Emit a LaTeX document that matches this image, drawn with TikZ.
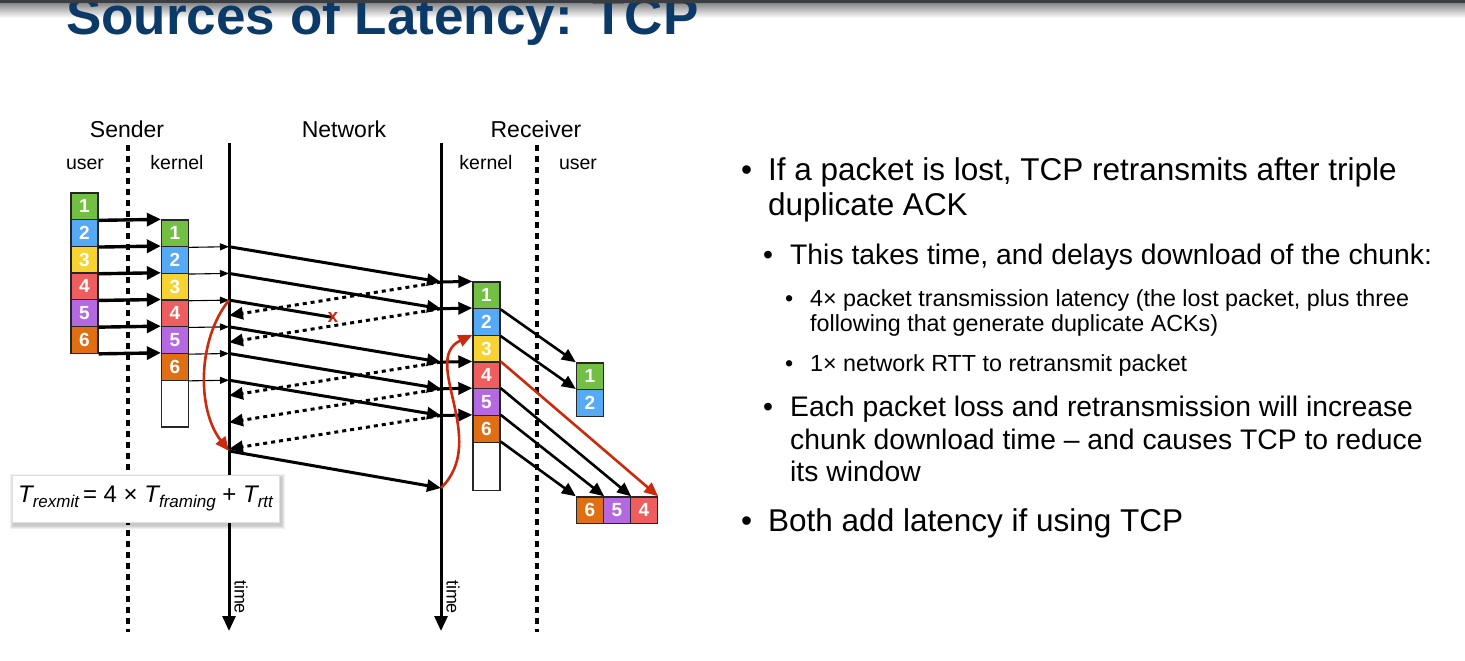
\documentclass[tikz,border=0pt]{standalone}
\usepackage{fontspec}
\setmainfont{Liberation Sans}
\usetikzlibrary{arrows.meta,calc}

\definecolor{titleblue}{HTML}{0C3A68}
\definecolor{barcol}{HTML}{3A3D41}
\definecolor{pgreen}{HTML}{72BF44}
\definecolor{pblue}{HTML}{56A9F4}
\definecolor{pyellow}{HTML}{F6D330}
\definecolor{pred}{HTML}{EE5E5E}
\definecolor{ppurple}{HTML}{B569E0}
\definecolor{porange}{HTML}{E06E13}
\definecolor{retx}{HTML}{CC2A0C}

\begin{document}
\begin{tikzpicture}[x=1pt, y=-1pt,
  pk/.style={draw=black!85, line width=1.3pt, minimum width=27pt, minimum height=26.7pt,
    inner sep=0pt, text=white, font=\bfseries\fontsize{19}{19}\selectfont},
  lbl/.style={inner sep=0pt, anchor=base, font=\fontsize{23}{23}\selectfont},
  sublbl/.style={inner sep=0pt, anchor=base, font=\fontsize{19.5}{19.5}\selectfont},
  timelbl/.style={inner sep=0pt, rotate=-90, font=\fontsize{18}{18}\selectfont},
  timeline/.style={line width=3pt, -{Triangle[length=15pt,width=13pt]}},
  divider/.style={line width=3.4pt, dash pattern=on 6pt off 5pt},
  push/.style={line width=3.4pt, -{Triangle[length=14pt,width=13pt]}},
  feed/.style={line width=1.1pt, -{Triangle[length=9pt,width=7pt]}},
  pktline/.style={line width=3pt, -{Triangle[length=14pt,width=12pt]}},
  ackline/.style={line width=3pt, dash pattern=on 4pt off 4pt, -{Triangle[length=14pt,width=12pt]}},
  deliver/.style={line width=2.6pt, -{Triangle[length=14pt,width=12pt]}},
  redline/.style={line width=2.6pt, draw=retx, -{Triangle[length=14pt,width=12pt]}},
  bul/.style={inner sep=0pt, anchor=base west},
  lvlA/.style={inner sep=0pt, anchor=base west, font=\fontsize{31.5}{35}\selectfont},
  lvlB/.style={inner sep=0pt, anchor=base west, font=\fontsize{28.3}{33}\selectfont},
  lvlC/.style={inner sep=0pt, anchor=base west, font=\fontsize{23.3}{25}\selectfont},
  formula/.style={draw=black!12, line width=0.6pt, fill=white, minimum width=267pt,
    minimum height=47pt, inner sep=0pt, font=\fontsize{24}{24}\selectfont}
]
\useasboundingbox (0,0) rectangle (1465,661);

% header strip with its soft shadow
\shade[top color=black!45, bottom color=white] (0,3.5) rectangle (1465,18);
\node[anchor=base west, inner sep=0pt, text=titleblue,
  font=\bfseries\fontsize{53}{53}\selectfont] (title) at (66,35) {Sources of Latency: TCP};
\fill[barcol] (0,0) rectangle (1465,3.5);

% column headings
\node[lbl] (sender) at (127,137) {Sender};
\node[lbl] (network) at (344,137) {Network};
\node[lbl] (receiver) at (536,137) {Receiver};
\node[sublbl] (suser) at (85,169) {user};
\node[sublbl] (skern) at (177,169) {kernel};
\node[sublbl] (rkern) at (486,169) {kernel};
\node[sublbl] (ruser) at (578,169) {user};

% user/kernel dividers and time axes
\coordinate (dsTop) at (128,145); \coordinate (dsBot) at (128,632);
\coordinate (drTop) at (537,145); \coordinate (drBot) at (537,632);
\coordinate (sTop) at (229,143);  \coordinate (sBot) at (229,631);
\coordinate (rTop) at (441,143);  \coordinate (rBot) at (441,631);
\draw[divider] (dsTop) -- (dsBot);
\draw[divider] (drTop) -- (drBot);
\draw[timeline] (sTop) -- (sBot);
\draw[timeline] (rTop) -- (rBot);
\node[timelbl] (stime) at (241,597) {time};
\node[timelbl] (rtime) at (453,597) {time};

% packet boxes
\foreach \i/\c in {1/pgreen,2/pblue,3/pyellow,4/pred,5/ppurple,6/porange} {
  \node[pk, fill=\c] (su\i) at (84.5, {193+26.7*(\i-0.5)}) {\i};
  \node[pk, fill=\c] (sk\i) at (175, {220+26.7*(\i-0.5)}) {\i};
  \node[pk, fill=\c] (rk\i) at (486.5, {282+26.7*(\i-0.5)}) {\i};
}
\node[pk, fill=white, minimum height=46.8pt] (skE) at (175,403.6) {};
\node[pk, fill=white, minimum height=48pt] (rkE) at (486.5,466.2) {};

\node[pk, fill=pgreen] (ru1) at (590,376.3) {1};
\node[pk, fill=pblue] (ru2) at (590,403) {2};
\node[pk, fill=porange] (rb6) at (590,510.3) {6};
\node[pk, fill=ppurple] (rb5) at (617,510.3) {5};
\node[pk, fill=pred] (rb4) at (644,510.3) {4};

% points where packets and ACKs meet the time axes
\foreach \i in {1,...,6} {
  \coordinate (s\i) at (229, {220+26.7*\i});
  \coordinate (r\i) at (441, {282+26.7*(\i-1)});
  \coordinate (a\i) at (229, {282+26.7*(\i-1)+33.5});
}
\coordinate (s7) at (229,451);
\coordinate (r7) at (441,488);

% user -> kernel -> wire on the sending side
\foreach \i in {1,...,6} {
  \draw[push] (su\i.south east) -- (sk\i.north west);
  \draw[feed] (sk\i.south east) -- (s\i);
}

% data packets, duplicate ACKs and the retransmission
\foreach \i in {1,2,4,5,6} {
  \draw[pktline] (s\i) -- (r\i);
  \draw[pktline] (r\i) -- (rk\i.north west);
  \draw[ackline] (r\i) -- (a\i);
}
\coordinate (lostpt) at ($(s3)!0.49!(r3)$);
\draw[line width=3pt] (s3) -- (lostpt);
\node[inner sep=0pt, text=retx, font=\bfseries\fontsize{19}{19}\selectfont] (lost) at (lostpt) {x};
\draw[pktline] (s7) -- (r7);

\draw[redline] (s3) .. controls (197,340) and (197,410) .. (s7);
\draw[redline] (r7) .. controls (490,440) and (420,360) .. (rk3.north west);

% delivery to the receiving application
\draw[deliver] (rk1.south east) -- (ru1.north west);
\draw[deliver] (rk2.south east) -- (ru2.north west);
\draw[redline] (rk4.north east) -- (rb4.north east);
\draw[deliver] (rk5.north east) -- (rb5.north east);
\draw[deliver] (rk6.north east) -- (rb6.north east);
\draw[deliver] (rkE.north east) -- (rb6.north west);

% retransmission time formula
\foreach \d in {0.5,1.5,2.5,3.5}
  \fill[black, opacity=0.06] ({13-\d}, {477-\d}) rectangle ({281+\d}, {525+\d});
\node[formula] (fm) at (145.5,498.5) {{\itshape T}\raisebox{-4.5pt}{\fontsize{17}{17}\selectfont\itshape rexmit}\,= 4 × {\itshape T}\raisebox{-4.5pt}{\fontsize{17}{17}\selectfont\itshape framing} + {\itshape T}\raisebox{-4.5pt}{\fontsize{17}{17}\selectfont\itshape rtt}};

% bullet text
\node[bul, font=\fontsize{31.5}{35}\selectfont] (b1) at (741,180) {•};
\node[lvlA] (t1a) at (768,180) {If a packet is lost, TCP retransmits after triple};
\node[lvlA] (t1b) at (768,215) {duplicate ACK};

\node[bul, font=\fontsize{28.3}{33}\selectfont] (b2) at (763,264) {•};
\node[lvlB] (t2a) at (790,264) {This takes time, and delays download of the chunk:};

\node[bul, font=\fontsize{23.3}{25}\selectfont] (b3) at (785,306) {•};
\node[lvlC] (t3a) at (810,306) {4× packet transmission latency (the lost packet, plus three};
\node[lvlC] (t3b) at (810,331) {following that generate duplicate ACKs)};

\node[bul, font=\fontsize{23.3}{25}\selectfont] (b4) at (785,371) {•};
\node[lvlC] (t4a) at (810,371) {1× network RTT to retransmit packet};

\node[bul, font=\fontsize{28.3}{33}\selectfont] (b5) at (763,416) {•};
\node[lvlB] (t5a) at (790,416) {Each packet loss and retransmission will increase};
\node[lvlB] (t5b) at (790,449) {chunk download time – and causes TCP to reduce};
\node[lvlB] (t5c) at (790,481) {its window};

\node[bul, font=\fontsize{31.5}{35}\selectfont] (b6) at (741,531) {•};
\node[lvlA] (t6a) at (768,531) {Both add latency if using TCP};
\end{tikzpicture}
\end{document}
